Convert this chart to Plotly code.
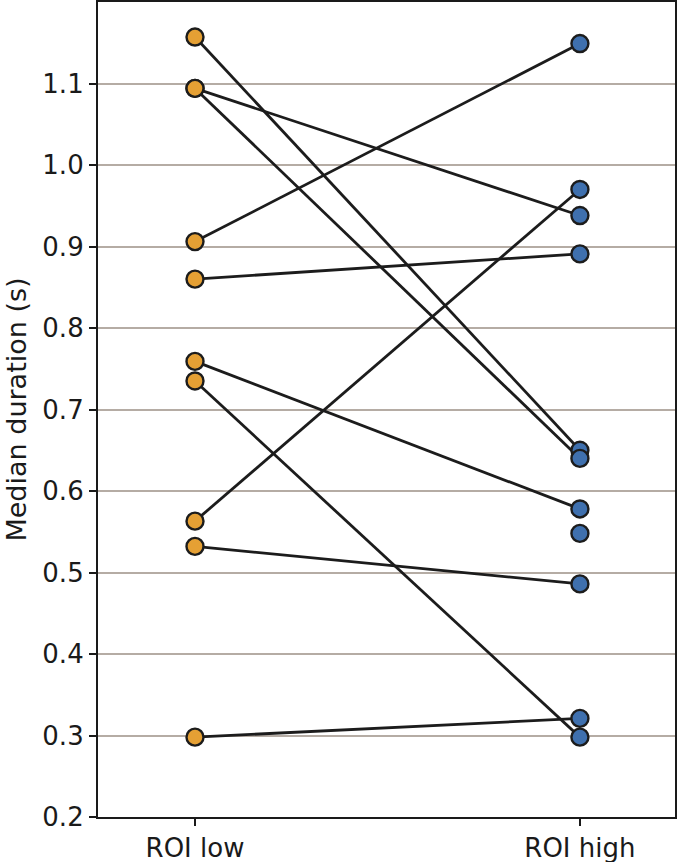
import plotly.graph_objects as go

categories = ["ROI low", "ROI high"]
roi_low = [1.157, 1.094, 1.094, 0.906, 0.860, 0.759, 0.735, 0.563, 0.532, 0.298, None]
roi_high = [0.650, 0.640, 0.938, 1.149, 0.891, 0.578, 0.298, 0.970, 0.486, 0.321, 0.548]
y_ticks = [0.2, 0.3, 0.4, 0.5, 0.6, 0.7, 0.8, 0.9, 1.0, 1.1]

LINE = "#1c1c1c"
ORANGE = "#E5A034"
BLUE = "#3F70AE"

fig = go.Figure()

# connecting lines
xs, ys = [], []
for lo, hi in zip(roi_low, roi_high):
    if lo is None or hi is None:
        continue
    xs += [0, 1, None]
    ys += [lo, hi, None]
fig.add_trace(go.Scatter(x=xs, y=ys, mode="lines",
                         line=dict(color=LINE, width=2.8),
                         hoverinfo="skip", showlegend=False))

fig.add_trace(go.Scatter(x=[0] * len(roi_low), y=roi_low, mode="markers",
                         marker=dict(size=17, color=ORANGE, line=dict(color=LINE, width=2.4)),
                         showlegend=False))
fig.add_trace(go.Scatter(x=[1] * len(roi_high), y=roi_high, mode="markers",
                         marker=dict(size=17, color=BLUE, line=dict(color=LINE, width=2.4)),
                         showlegend=False))

font = dict(family="DejaVu Sans", size=26, color="#1a1a1a")

fig.update_layout(
    width=677, height=862,
    margin=dict(l=98, r=2, t=2, b=45),
    paper_bgcolor="white", plot_bgcolor="white",
    font=font,
    showlegend=False,
)
fig.update_xaxes(
    range=[-0.252, 1.247],
    tickvals=[0, 1], ticktext=categories,
    showgrid=False, zeroline=False, automargin=False,
    ticks="outside", ticklen=7, tickwidth=1.5, tickcolor="#1a1a1a",
    showline=True, linecolor="#1a1a1a", linewidth=2.2, mirror=True,
    tickfont=dict(size=26),
)
fig.update_yaxes(
    range=[0.2, 1.2],
    tickvals=y_ticks, ticktext=[f"{v:.1f}" for v in y_ticks],
    showgrid=True, gridcolor="#b5aca4", gridwidth=2,
    zeroline=False, automargin=False,
    ticks="outside", ticklen=7, tickwidth=1.5, tickcolor="#1a1a1a",
    showline=True, linecolor="#1a1a1a", linewidth=2.2, mirror=True,
    title=dict(text="Median duration (s)", font=dict(size=27), standoff=8),
    tickfont=dict(size=26),
)

fig.write_html("out.html")
